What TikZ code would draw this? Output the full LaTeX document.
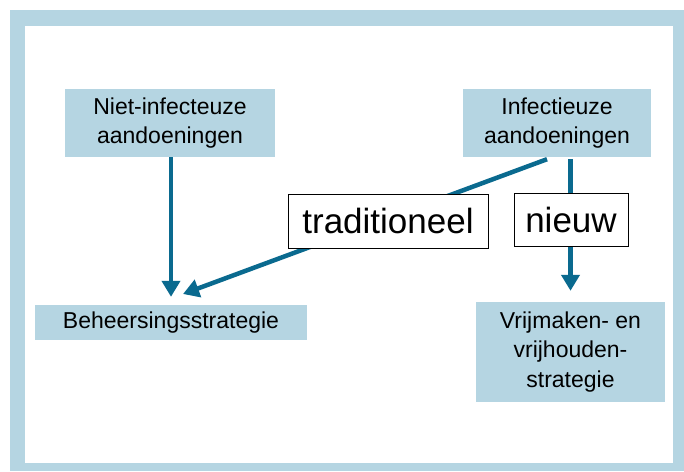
\documentclass[tikz,border=0pt]{standalone}
\usepackage{fontspec}
\setmainfont{Liberation Sans}
\usetikzlibrary{arrows.meta,positioning}
\definecolor{framebl}{RGB}{181,213,226}
\definecolor{flowbl}{RGB}{10,106,143}

\begin{document}
\begin{tikzpicture}[x=1pt,y=-1pt,
  every node/.style={font=\fontsize{23}{29.5}\selectfont,align=center,inner sep=0pt},
  stratbox/.style={fill=framebl,text=black},
  tagbox/.style={draw=black,line width=.8pt,fill=white,font=\fontsize{35}{40}\selectfont},
  flow/.style={draw=flowbl,line width=4.5pt,-{Triangle[length=16pt,width=18pt]}}]
\useasboundingbox (0,0) rectangle (684,471);
\fill[framebl] (10,10) rectangle (684,471);
\fill[white] (25,26) rectangle (673,463);
% boxes
\node[stratbox,minimum width=210pt,minimum height=68pt] (niet) at (170,123) {Niet-infecteuze\\aandoeningen};
\node[stratbox,minimum width=188pt,minimum height=68pt] (inf) at (557,123) {Infectieuze\\aandoeningen};
\node[stratbox,minimum width=272pt,minimum height=35pt] (beh) at (171,322.5) {Beheersingsstrategie};
\node[stratbox,minimum width=189pt,minimum height=100pt] (vrij) at (570.5,352) {Vrijmaken- en\\vrijhouden-\\strategie};
% arrows
\coordinate (tradend) at (183,294);
\draw[flow] (niet.south -| beh.north) -- ([yshift=8pt]beh.north);
\draw[flow] ([xshift=-10pt,yshift=-2pt]inf.south) -- (tradend);
\draw[flow] ([yshift=-2pt]inf.south -| vrij.north) -- ([yshift=11pt]vrij.north);
% labels on the arrows
\node[tagbox,minimum width=200pt,minimum height=54pt] (trad) at (388,221) {traditioneel};
\node[tagbox,minimum width=114pt,minimum height=53pt] (nieuw) at (571,219.5) {nieuw};
\end{tikzpicture}
\end{document}
